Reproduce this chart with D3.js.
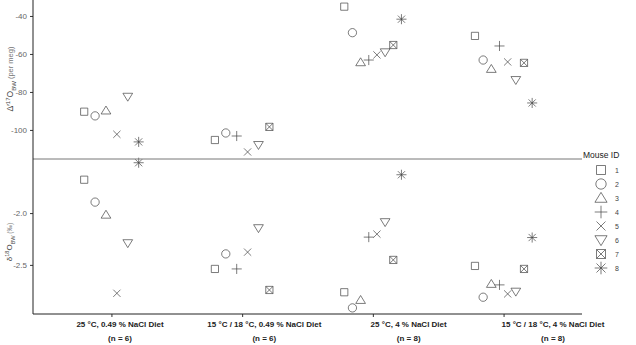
<!DOCTYPE html>
<html>
<head>
<meta charset="utf-8">
<script src="https://cdn.jsdelivr.net/npm/d3@7"></script>
<style>
  body { margin: 0; background: #fff; }
  svg { display: block; font-family: "Liberation Sans", Arial, sans-serif; }
</style>
</head>
<body>
<svg id="chart" width="636" height="345"></svg>
<script>
// groups on the x axis
const groupLabels = ["25 \u00b0C, 0.49 % NaCl Diet", "15 \u00b0C / 18 \u00b0C, 0.49 % NaCl Diet", "25 \u00b0C, 4 % NaCl Diet", "15 \u00b0C / 18 \u00b0C, 4 % NaCl Diet"];
const groupN = ["(n = 6)", "(n = 6)", "(n = 8)", "(n = 8)"];
const mouseIds = [1, 2, 3, 4, 5, 6, 7, 8];

// values per group, indexed by mouse id (null = not in group)
const d17O = [
    [-90.4, -92.6, -89.8, null, -102.3, -82.5, null, -106.3],
    [-105.3, -101.6, null, -103.2, -111.6, -107.9, -98.4, null],
    [-35.1, -48.8, -64.4, -63.2, -60.5, -59.1, -55.3, -41.7],
    [-50.5, -63.2, -67.9, -55.8, -64.2, -73.7, -64.7, -85.8]
];
const d18O = [
    [-1.678, -1.894, -2.016, null, -2.774, -2.290, null, -1.514],
    [-2.539, -2.394, null, -2.539, -2.377, -2.145, -2.742, null],
    [-2.764, -2.915, -2.839, -2.232, -2.203, -2.087, -2.452, -1.630],
    [-2.510, -2.812, -2.684, -2.693, -2.780, -2.758, -2.539, -2.236]
];
const topTicks = [-40, -60, -80, -100];
const bottomTicks = [-2.0, -2.5];

const svg = d3.select('#chart');
const plotLeft = 33, plotRight = 582, plotTop = 0, plotMid = 159, plotBottom = 314;

const x = d3.scalePoint().domain(groupLabels).range([plotLeft, plotRight]).padding(0.6);
const xLabel = d3.scalePoint().domain(groupLabels).range([120, 553]);
const yTop = d3.scaleLinear().domain([-115.3, -31.6]).range([plotMid, plotTop]);
const yBot = d3.scaleLinear().domain([-2.974, -1.478]).range([plotBottom, plotMid]);

// symbol paths, ggplot shapes 0,1,2,3,4,6,7,8
function shapePath(id, s) {
    const p = d3.path();
    const h = s * 0.45;
    switch (id) {
        case 1:
            p.rect(-h, -h, 2 * h, 2 * h);
            break;
        case 2:
            p.moveTo(h * 1.15, 0);
            p.arc(0, 0, h * 1.15, 0, 2 * Math.PI);
            break;
        case 3:
            p.moveTo(0, -h * 1.25); p.lineTo(h * 1.35, h * 0.95); p.lineTo(-h * 1.35, h * 0.95); p.closePath();
            break;
        case 4:
            p.moveTo(-h * 1.4, 0); p.lineTo(h * 1.4, 0);
            p.moveTo(0, -h * 1.4); p.lineTo(0, h * 1.4);
            break;
        case 5:
            p.moveTo(-h, -h); p.lineTo(h, h);
            p.moveTo(-h, h); p.lineTo(h, -h);
            break;
        case 6:
            p.moveTo(0, h * 1.25); p.lineTo(h * 1.35, -h * 0.95); p.lineTo(-h * 1.35, -h * 0.95); p.closePath();
            break;
        case 7:
            p.rect(-h, -h, 2 * h, 2 * h);
            p.moveTo(-h, -h); p.lineTo(h, h);
            p.moveTo(-h, h); p.lineTo(h, -h);
            break;
        case 8:
            p.moveTo(-h * 1.4, 0); p.lineTo(h * 1.4, 0);
            p.moveTo(0, -h * 1.4); p.lineTo(0, h * 1.4);
            p.moveTo(-h, -h); p.lineTo(h, h);
            p.moveTo(-h, h); p.lineTo(h, -h);
            break;
    }
    return p.toString();
}

// flatten with dodge positions
function buildPoints(values, yScale) {
    const pts = [];
    values.forEach(function (row, g) {
        const present = mouseIds.filter(function (id, i) { return row[i] !== null; });
        const n = present.length;
        const w = x.step() * 0.5;
        present.forEach(function (id, k) {
            pts.push({
                id: id,
                cx: x(groupLabels[g]) + (k - (n - 1) / 2) * w / n,
                cy: yScale(row[id - 1])
            });
        });
    });
    return pts;
}

const allPoints = buildPoints(d17O, yTop).concat(buildPoints(d18O, yBot));

svg.append('g').attr('class', 'points')
    .selectAll('path')
    .data(allPoints)
    .enter()
    .append('path')
    .attr('transform', function (d) { return 'translate(' + d.cx + ',' + d.cy + ')'; })
    .attr('d', function (d) { return shapePath(d.id, 8); })
    .attr('fill', 'none')
    .attr('stroke', '#444')
    .attr('stroke-width', 0.7);

// axes
const topAxis = svg.append('g').attr('transform', 'translate(' + plotLeft + ',0)')
    .call(d3.axisLeft(yTop).tickValues(topTicks).tickSize(3).tickFormat(function (d) { return String(d); }));
const botAxis = svg.append('g').attr('transform', 'translate(' + plotLeft + ',0)')
    .call(d3.axisLeft(yBot).tickValues(bottomTicks).tickSize(3).tickFormat(function (d) { return d.toFixed(1); }));
const xAxis = svg.append('g').attr('transform', 'translate(0,' + plotBottom + ')')
    .call(d3.axisBottom(x).tickSize(3).tickFormat(''));
[topAxis, botAxis, xAxis].forEach(function (a) {
    a.select('.domain').remove();
    a.selectAll('line').attr('stroke', '#333');
    a.selectAll('text').attr('fill', '#666').attr('font-size', 8)
        .attr('font-family', '"Liberation Sans", Arial, sans-serif');
});

svg.append('line').attr('x1', plotLeft).attr('x2', plotRight).attr('y1', plotMid).attr('y2', plotMid)
    .attr('stroke', '#777').attr('stroke-width', 1);
svg.append('line').attr('x1', plotLeft).attr('x2', plotRight).attr('y1', plotBottom).attr('y2', plotBottom)
    .attr('stroke', '#222').attr('stroke-width', 1);
svg.append('line').attr('x1', plotLeft).attr('x2', plotLeft).attr('y1', plotTop).attr('y2', plotBottom)
    .attr('stroke', '#222').attr('stroke-width', 1);

// y titles
const t1 = svg.append('text')
    .attr('transform', 'translate(13,79) rotate(-90)')
    .attr('text-anchor', 'middle')
    .attr('font-size', 8.5)
    .attr('fill', '#444');
t1.append('tspan').text('\u0394\u2032');
t1.append('tspan').attr('font-size', 6).attr('dy', -3).text('17');
t1.append('tspan').attr('dy', 3).text('O');
t1.append('tspan').attr('font-size', 6).attr('dy', 2.5).text('BW');
t1.append('tspan').attr('dy', -2.5).attr('font-size', 7.5).attr('fill', '#777').text(' (per meg)');

const t2 = svg.append('text')
    .attr('transform', 'translate(12,242) rotate(-90)')
    .attr('text-anchor', 'middle')
    .attr('font-size', 8)
    .attr('fill', '#444');
t2.append('tspan').text('\u03b4');
t2.append('tspan').attr('font-size', 5.5).attr('dy', -3).text('18');
t2.append('tspan').attr('dy', 3).text('O');
t2.append('tspan').attr('font-size', 5.5).attr('dy', 2.5).text('BW');
t2.append('tspan').attr('dy', -2.5).attr('font-size', 6.5).attr('fill', '#777').text(' (\u2030)');

// x labels
const xl = svg.append('g').attr('class', 'xlabels')
    .selectAll('text')
    .data(groupLabels)
    .enter()
    .append('text')
    .attr('x', function (d) { return xLabel(d); })
    .attr('text-anchor', 'middle')
    .attr('font-size', 8)
    .attr('font-weight', 'bold')
    .attr('fill', '#222');
xl.append('tspan').attr('x', function (d) { return xLabel(d); }).attr('y', 327).text(function (d) { return d; });
xl.append('tspan').attr('x', function (d) { return xLabel(d); }).attr('y', 341).text(function (d, i) { return groupN[i]; });

// legend
const legend = svg.append('g').attr('class', 'legend');
legend.append('text').attr('x', 583).attr('y', 158).attr('font-size', 8.5).attr('fill', '#222').text('Mouse ID');
const rows = legend.selectAll('g.row')
    .data(mouseIds)
    .enter()
    .append('g')
    .attr('class', 'row')
    .attr('transform', function (d, i) { return 'translate(601,' + (170 + i * 14) + ')'; });
rows.append('path')
    .attr('d', function (d) { return shapePath(d, 10); })
    .attr('fill', 'none')
    .attr('stroke', '#444')
    .attr('stroke-width', 0.7);
rows.append('text')
    .attr('x', 14)
    .attr('y', 3)
    .attr('font-size', 7)
    .attr('fill', '#444')
    .text(function (d) { return d; });
</script>
</body>
</html>
